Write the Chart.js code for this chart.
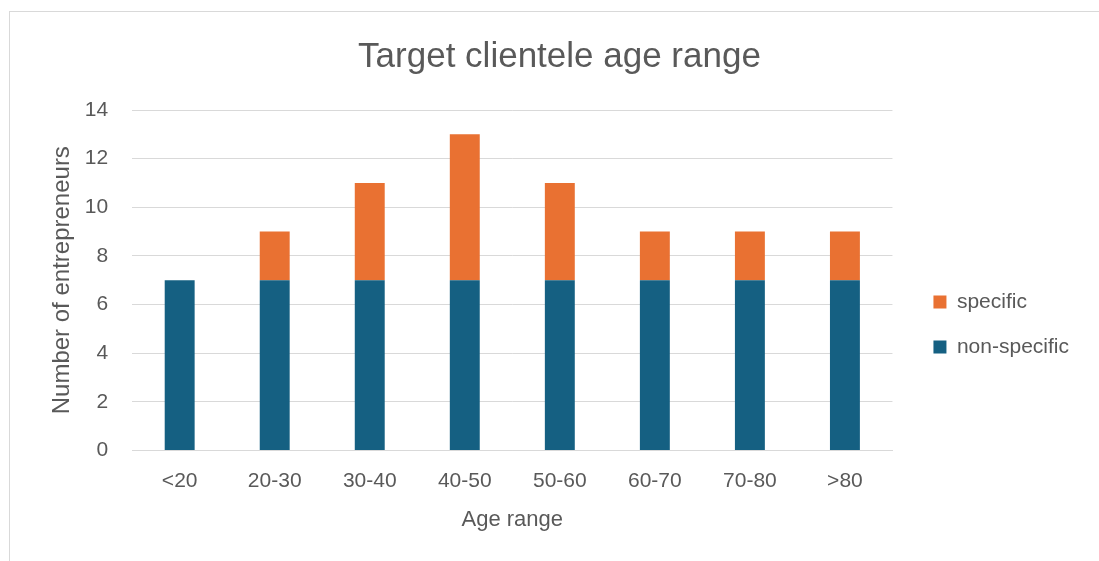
<!DOCTYPE html>
<html>
<head>
<meta charset="utf-8">
<title>Target clientele age range</title>
<script src="https://cdn.jsdelivr.net/npm/chart.js@4.4.1/dist/chart.umd.min.js"></script>
<style>
  html, body { margin: 0; padding: 0; background: #fff; overflow: hidden; }
  #frame {
    position: absolute; left: 9px; top: 11px;
    width: 1200px; height: 700px;
    border: 1px solid #d9d9d9; background: #fff;
  }
  #ageChart { position: absolute; left: 0; top: 0; }
</style>
</head>
<body>
<div id="frame"></div>
<canvas id="ageChart" width="1099" height="561"></canvas>
<script>
// Age groups and counts of entrepreneurs per group
const ageRanges = ['<20', '20-30', '30-40', '40-50', '50-60', '60-70', '70-80', '>80'];
const nonSpecific = [7, 7, 7, 7, 7, 7, 7, 7];
const specific = [0, 2, 4, 6, 4, 2, 2, 2];
const yTicks = [0, 2, 4, 6, 8, 10, 12, 14];

const textColor = '#595959';
const gridColor = '#d9d9d9';
const fontFamily = '"Liberation Sans", Arial, sans-serif';

// Nudge the legend next to the plot the way the spreadsheet lays it out
const legendOffset = {
  id: 'legendOffset',
  afterLayout(chart, args, opts) {
    const lg = chart.legend;
    if (!lg) return;
    lg.left += opts.x; lg.right += opts.x;
    lg.top += opts.y; lg.bottom += opts.y;
  }
};

const ctx = document.getElementById('ageChart').getContext('2d');
new Chart(ctx, {
  type: 'bar',
  data: {
    labels: ageRanges,
    datasets: [
      {
        label: 'non-specific',
        data: nonSpecific,
        backgroundColor: '#156082',
        categoryPercentage: 1,
        barPercentage: 0.315
      },
      {
        label: 'specific',
        data: specific,
        backgroundColor: '#e97132',
        categoryPercentage: 1,
        barPercentage: 0.315
      }
    ]
  },
  options: {
    responsive: false,
    animation: false,
    layout: { padding: { left: 57, right: 37, top: 0, bottom: 28 } },
    plugins: {
      title: {
        display: true,
        text: 'Target clientele age range',
        color: textColor,
        font: { family: fontFamily, size: 35, weight: 'normal' },
        padding: { top: 36, bottom: 32 }
      },
      legend: {
        position: 'right',
        reverse: true,
        labels: {
          color: textColor,
          font: { family: fontFamily, size: 21 },
          boxWidth: 13,
          boxHeight: 13,
          padding: 24
        }
      },
      legendOffset: { x: 17, y: 58 },
      tooltip: { enabled: false }
    },
    scales: {
      x: {
        stacked: true,
        grid: { display: false, drawTicks: false },
        border: { display: true, color: gridColor, width: 1 },
        ticks: {
          color: textColor,
          font: { family: fontFamily, size: 21 },
          padding: 18
        },
        title: {
          display: true,
          text: 'Age range',
          color: textColor,
          font: { family: fontFamily, size: 22 },
          padding: { top: -5, bottom: 0 }
        }
      },
      y: {
        stacked: true,
        min: 0,
        max: 14,
        afterBuildTicks(scale) {
          scale.ticks = yTicks.map(v => ({ value: v }));
        },
        grid: { color: gridColor, lineWidth: 1, drawTicks: false },
        border: { display: false },
        ticks: {
          color: textColor,
          font: { family: fontFamily, size: 21 },
          padding: 24
        },
        title: {
          display: true,
          text: 'Number of entrepreneurs',
          color: textColor,
          font: { family: fontFamily, size: 24 },
          padding: { top: -9, bottom: -16 }
        }
      }
    }
  },
  plugins: [legendOffset]
});
</script>
</body>
</html>
